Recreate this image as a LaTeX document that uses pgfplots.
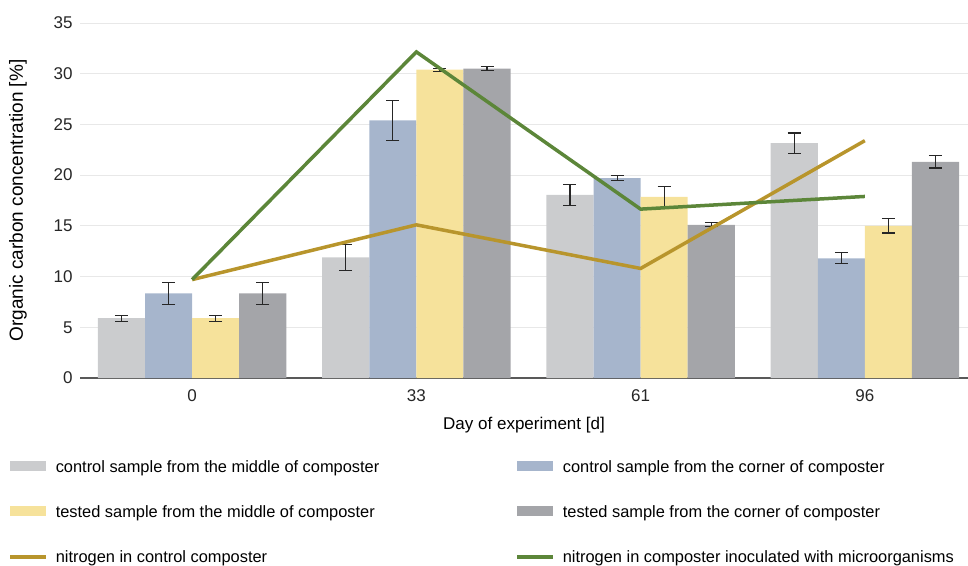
\documentclass[border=0pt]{standalone}
\usepackage{pgfplots}
\usepackage{pgfplotstable}
\pgfplotsset{compat=1.18}
\usepackage{fontspec}
\setmainfont{Liberation Sans}
\definecolor{cgrey}{HTML}{CBCCCE}
\definecolor{cblue}{HTML}{A6B5CC}
\definecolor{cyel}{HTML}{F6E29B}
\definecolor{cdark}{HTML}{A4A5A9}
\definecolor{cgold}{HTML}{B8952C}
\definecolor{cgreen}{HTML}{5C8639}
\pgfplotstableread{
x g b y d ge be ye de
0 5.9 8.35 5.9 8.35 0.3 1.1 0.3 1.1
1 11.9 25.4 30.4 30.5 1.3 2.0 0.15 0.2
2 18.05 19.7 17.85 15.1 1.0 0.25 1.0 0.2
3 23.15 11.8 15.0 21.3 1.0 0.55 0.7 0.6
}\bars
\pgfplotstableread{
x n
0 9.7
1 15.1
2 10.8
3 23.4
}\nctrl
\pgfplotstableread{
x n
0 9.7
1 32.15
2 16.65
3 17.9
}\ninoc
\begin{document}
\begin{tikzpicture}
\useasboundingbox (0,0) rectangle (968pt,565pt);
\begin{axis}[
  at={(80pt,187pt)}, anchor=south west,
  scale only axis, width=888pt, height=355pt,
  xmin=-0.5, xmax=3.46, ymin=0, ymax=35,
  xtick={0,1,2,3}, xticklabels={0,33,61,96},
  ytick={0,5,...,35},
  ymajorgrids, grid style={gray!18, line width=0.8pt},
  axis x line*=bottom, axis y line*=left,
  x axis line style={-, draw=black!65, line width=1.1pt},
  y axis line style={draw=none},
  major tick length=0pt,
  /pgf/number format/assume math mode=true,
  tick label style={font=\fontsize{17}{19}\selectfont, text=black!85},
  xticklabel style={yshift=-8pt},
  yticklabel style={xshift=-4pt},
  xlabel={Day of experiment [d]}, ylabel={Organic carbon concentration [\%]},
  every axis x label/.style={at={(axis description cs:0.5,-0.132)}, anchor=center, font=\fontsize{17}{19}\selectfont},
  every axis y label/.style={at={(axis description cs:-0.0698,0.5)}, rotate=90, anchor=center, font=\fontsize{19}{21}\selectfont},
  legend columns=2,
  legend cell align=left,
  legend style={at={(-0.0844,-0.22)}, anchor=north west, draw=none, fill=none,
    font=\fontsize{16.4}{18}\selectfont, row sep=28pt,
    /tikz/every odd column/.append style={column sep=6pt},
    /tikz/every even column/.append style={column sep=134pt}},
  error bars/y dir=both, error bars/y explicit,
  error bars/error bar style={black!85, line width=1.1pt},
  error bars/error mark options={rotate=90, mark size=6.5pt, line width=1.1pt, black!85},
]
\pgfplotsset{barleg/.style={legend image code/.code={\fill[##1,draw=none] (0pt,-4pt) rectangle (36pt,6pt);}}}
\addplot[ybar, bar width=0.21, bar shift=0, fill=cgrey, draw=none, barleg] table[x expr=\thisrow{x}-0.315, y=g, y error=ge]{\bars};
\addlegendentry{control sample from the middle of composter}
\addplot[ybar, bar width=0.21, bar shift=0, fill=cblue, draw=none, barleg] table[x expr=\thisrow{x}-0.105, y=b, y error=be]{\bars};
\addlegendentry{control sample from the corner of composter}
\addplot[ybar, bar width=0.21, bar shift=0, fill=cyel, draw=none, barleg] table[x expr=\thisrow{x}+0.105, y=y, y error=ye]{\bars};
\addlegendentry{tested sample from the middle of composter}
\addplot[ybar, bar width=0.21, bar shift=0, fill=cdark, draw=none, barleg] table[x expr=\thisrow{x}+0.315, y=d, y error=de]{\bars};
\addlegendentry{tested sample from the corner of composter}
\addplot[cgold, line width=3.5pt, no markers, error bars/y dir=none,
  legend image code/.code={\draw[cgold, line width=3.5pt] (0pt,1pt) -- (36pt,1pt);}] table[x=x, y=n]{\nctrl};
\addlegendentry{nitrogen in control composter}
\addplot[cgreen, line width=3.5pt, no markers, error bars/y dir=none,
  legend image code/.code={\draw[cgreen, line width=3.5pt] (0pt,1pt) -- (36pt,1pt);}] table[x=x, y=n]{\ninoc};
\addlegendentry{nitrogen in composter inoculated with microorganisms}
\end{axis}
\end{tikzpicture}
\end{document}
